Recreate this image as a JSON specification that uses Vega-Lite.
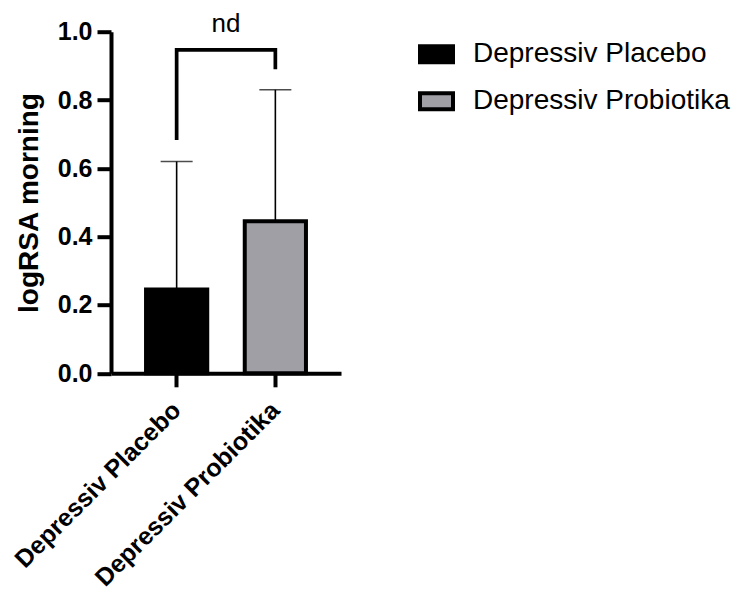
{
  "$schema": "https://vega.github.io/schema/vega-lite/v6.json",
  "autosize": {"type": "none"},
  "width": 230,
  "height": 341.6,
  "padding": {"left": 111, "top": 31.7, "right": 400, "bottom": 217.7},
  "background": "white",
  "config": {
    "view": {"stroke": null},
    "font": "Liberation Sans"
  },
  "title": {
    "text": "nd",
    "font": "Liberation Sans",
    "fontSize": 26,
    "fontWeight": "normal",
    "color": "black",
    "anchor": "middle",
    "frame": "group",
    "baseline": "alphabetic",
    "offset": 0,
    "dy": 38
  },
  "data": {
    "values": [
      {"group": "Depressiv Placebo", "mean": 0.245, "upper": 0.62},
      {"group": "Depressiv Probiotika", "mean": 0.445, "upper": 0.83}
    ]
  },
  "encoding": {
    "x": {
      "field": "group",
      "type": "nominal",
      "sort": ["Depressiv Placebo", "Depressiv Probiotika"],
      "scale": {"paddingInner": 0.38, "paddingOuter": 0.355},
      "axis": {
        "title": null,
        "labelAngle": -45,
        "labelAlign": "right",
        "labelBaseline": "middle",
        "labelFont": "Liberation Sans",
        "labelFontSize": 25,
        "labelFontWeight": "bold",
        "labelColor": "black",
        "labelPadding": 19,
        "labelLimit": 500,
        "labelOverlap": false,
        "tickSize": 13.5,
        "tickWidth": 4,
        "tickColor": "black",
        "domainWidth": 4,
        "domainColor": "black"
      }
    }
  },
  "layer": [
    {
      "mark": {"type": "bar", "stroke": "black", "strokeWidth": 4},
      "encoding": {
        "y": {
          "field": "mean",
          "type": "quantitative",
          "scale": {"domain": [0, 1], "nice": false},
          "axis": {
            "title": "logRSA morning",
            "titleFont": "Liberation Sans",
            "titleFontSize": 28,
            "titleFontWeight": "bold",
            "titleColor": "black",
            "titleBaseline": "alphabetic",
            "titleX": -74,
            "values": [0, 0.2, 0.4, 0.6, 0.8, 1.0],
            "format": ".1f",
            "labelFont": "Liberation Sans",
            "labelFontSize": 25,
            "labelFontWeight": "bold",
            "labelColor": "black",
            "labelPadding": 5,
            "tickSize": 14,
            "tickWidth": 4,
            "tickColor": "black",
            "domainWidth": 4,
            "domainColor": "black",
            "grid": false
          }
        },
        "fill": {
          "field": "group",
          "type": "nominal",
          "scale": {
            "domain": ["Depressiv Placebo", "Depressiv Probiotika"],
            "range": ["black", "#a09fa5"]
          },
          "legend": {
            "title": null,
            "orient": "none",
            "legendX": 307,
            "legendY": 4,
            "symbolType": "M-1,-0.485H1V0.485H-1Z",
            "symbolSize": 1089,
            "symbolStrokeColor": "black",
            "symbolStrokeWidth": 4,
            "symbolOpacity": 1,
            "labelFont": "Liberation Sans",
            "labelFontSize": 28,
            "labelColor": "black",
            "labelOffset": 18,
            "rowPadding": 12,
            "labelLimit": 400
          }
        }
      }
    },
    {
      "mark": {"type": "rule", "color": "black", "strokeWidth": 1.6},
      "encoding": {
        "y": {"field": "mean", "type": "quantitative"},
        "y2": {"field": "upper"}
      }
    },
    {
      "mark": {"type": "tick", "color": "black", "thickness": 1.6, "size": 32, "orient": "horizontal"},
      "encoding": {
        "y": {"field": "upper", "type": "quantitative"}
      }
    },
    {
      "data": {
        "values": [
          {"group": "Depressiv Placebo", "level": 0.683, "step": 1},
          {"group": "Depressiv Placebo", "level": 0.947, "step": 2},
          {"group": "Depressiv Probiotika", "level": 0.947, "step": 3},
          {"group": "Depressiv Probiotika", "level": 0.89, "step": 4}
        ]
      },
      "mark": {"type": "line", "color": "black", "strokeWidth": 3.7, "strokeJoin": "miter", "strokeCap": "butt"},
      "encoding": {
        "y": {"field": "level", "type": "quantitative"},
        "order": {"field": "step", "type": "quantitative"}
      }
    }
  ]
}
